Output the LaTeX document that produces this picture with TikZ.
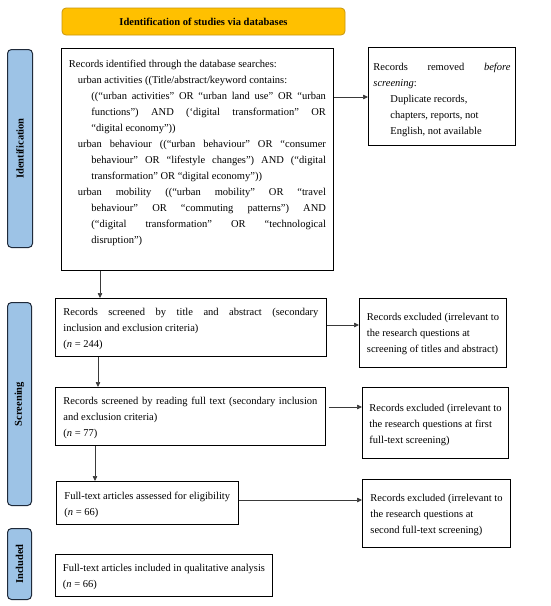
\documentclass[tikz,border=0pt]{standalone}
\usepackage{fontspec}
\setmainfont{Liberation Serif}
\usetikzlibrary{arrows.meta}
\definecolor{hdrfill}{HTML}{FFC000}
\definecolor{hdrdraw}{HTML}{C8960C}
\definecolor{sidefill}{HTML}{9DC3E6}
\definecolor{sidedraw}{HTML}{1F2A3A}
\definecolor{arrcol}{HTML}{3A3A3A}
% justified line / ragged line
\newcommand{\jl}[2]{\hbox to \linewidth{\hspace*{#1}\rule{0pt}{8pt}#2}}
\newcommand{\rl}[2]{\hbox{\hspace*{#1}\rule{0pt}{8pt}#2}}
% width, height, top space, content
\newcommand{\bxc}[4]{\parbox[c][#2][t]{#1}{\vspace*{#3}#4}}
\tikzset{
  tb/.style={draw=black, line width=0.9pt, inner ysep=0pt, anchor=north west},
  hdr/.style={draw=hdrdraw, fill=hdrfill, line width=0.8pt, rounded corners=4pt,
    minimum width=283pt, minimum height=27pt, font=\fontsize{10.5}{12}\selectfont\bfseries},
  side/.style={draw=sidedraw, fill=sidefill, line width=1pt, rounded corners=4pt,
    anchor=north west, inner sep=0pt, font=\fontsize{10.5}{12}\selectfont\bfseries},
  arr/.style={draw=arrcol, line width=0.7pt, -{Triangle[length=5pt,width=4.5pt]}},
}
\begin{document}
\begin{tikzpicture}[x=1pt,y=-1pt,font=\fontsize{10.5}{16}\selectfont]
\useasboundingbox[fill=white] (0,0) rectangle (550,606);

% header
\node[hdr] (hdr) at (203.5,21.5) {Identification of studies via databases};

% side labels
\node[side, minimum width=25pt, minimum height=198pt] (sideI) at (7,49)
  {\rotatebox{90}{Identification}};
\node[side, minimum width=24pt, minimum height=203pt] (sideS) at (7,302)
  {\rotatebox{90}{Screening}};
\node[side, minimum width=24pt, minimum height=71pt] (sideInc) at (7,528)
  {\rotatebox{90}{Included}};

% identification box
\node[tb, inner xsep=7.5pt] (b1) at (61,48) {\bxc{257pt}{222pt}{11pt}{%
  \rl{0pt}{Records identified through the database searches:}%
  \rl{9pt}{urban activities ((Title/abstract/keyword contains:}%
  \jl{22.5pt}{((``urban activities'' OR ``urban land use'' OR ``urban}%
  \jl{22.5pt}{functions'') AND (`digital transformation'' OR}%
  \rl{22.5pt}{``digital economy''))}%
  \jl{9pt}{urban behaviour ((``urban behaviour'' OR ``consumer}%
  \jl{22.5pt}{behaviour'' OR ``lifestyle changes'') AND (``digital}%
  \rl{22.5pt}{transformation'' OR ``digital economy''))}%
  \jl{9pt}{urban mobility ((``urban mobility'' OR ``travel}%
  \jl{22.5pt}{behaviour'' OR ``commuting patterns'') AND}%
  \jl{22.5pt}{(``digital transformation'' OR ``technological}%
  \rl{22.5pt}{disruption'')}%
}};

\node[tb, inner xsep=5pt] (rem) at (368,47) {\bxc{137pt}{98pt}{15pt}{%
  \jl{0pt}{Records removed \textit{before}}%
  \rl{0pt}{\textit{screening}:}%
  \rl{17pt}{Duplicate records,}%
  \rl{17pt}{chapters, reports, not}%
  \rl{17pt}{English, not available}%
}};

% screening
\node[tb, inner xsep=8pt] (s1) at (55,298) {\bxc{255pt}{58pt}{9pt}{%
  \jl{0pt}{Records screened by title and abstract (secondary}%
  \rl{0pt}{inclusion and exclusion criteria)}%
  \rl{0pt}{(\textit{n} = 244)}%
}};
\node[tb, inner xsep=7.5pt] (e1) at (359,298) {\bxc{137pt}{69pt}{14pt}{%
  \rl{0pt}{Records excluded (irrelevant to}%
  \rl{0pt}{the research questions at}%
  \rl{0pt}{screening of titles and abstract)}%
}};
\node[tb, inner xsep=8pt] (s2) at (55,387) {\bxc{254pt}{58pt}{9.5pt}{%
  \jl{0pt}{Records screened by reading full text (secondary inclusion}%
  \rl{0pt}{and exclusion criteria)}%
  \rl{0pt}{(\textit{n} = 77)}%
}};
\node[tb, inner xsep=7pt] (e2) at (362,387) {\bxc{137pt}{71pt}{16.5pt}{%
  \rl{0pt}{Records excluded (irrelevant to}%
  \rl{0pt}{the research questions at first}%
  \rl{0pt}{full-text screening)}%
}};
\node[tb, inner xsep=8pt] (f) at (56,481) {\bxc{169pt}{43pt}{10pt}{%
  \rl{0pt}{Full-text articles assessed for eligibility}%
  \rl{0pt}{(\textit{n} = 66)}%
}};
\node[tb, inner xsep=8pt] (e3) at (362,479) {\bxc{135pt}{68pt}{14pt}{%
  \rl{0pt}{Records excluded (irrelevant to}%
  \rl{0pt}{the research questions at}%
  \rl{0pt}{second full-text screening)}%
}};

% included
\node[tb, inner xsep=7.5pt] (inc) at (55,554) {\bxc{217pt}{42pt}{9pt}{%
  \rl{0pt}{Full-text articles included in qualitative analysis}%
  \rl{0pt}{(\textit{n} = 66)}%
}};

% connectors
\draw[arr] ([yshift=-49pt]b1.north east) coordinate (a1) -- (a1 -| rem.west);
\draw[arr] ([xshift=39pt]b1.south west) coordinate (a2) -- (a2 |- s1.north);
\draw[arr] ([yshift=-27pt]s1.north east) coordinate (a3) -- (a3 -| e1.west);
\draw[arr] ([xshift=43pt]s1.south west) coordinate (a4) -- (a4 |- s2.north);
\draw[arr, shorten <=3pt] ([yshift=-20pt]s2.north east) coordinate (a5) -- (a5 -| e2.west);
\draw[arr] ([xshift=40pt]s2.south west) coordinate (a6) -- (a6 |- f.north);
\draw[arr] ([yshift=-19pt]f.north east) coordinate (a7) -- (a7 -| e3.west);
\end{tikzpicture}
\end{document}
